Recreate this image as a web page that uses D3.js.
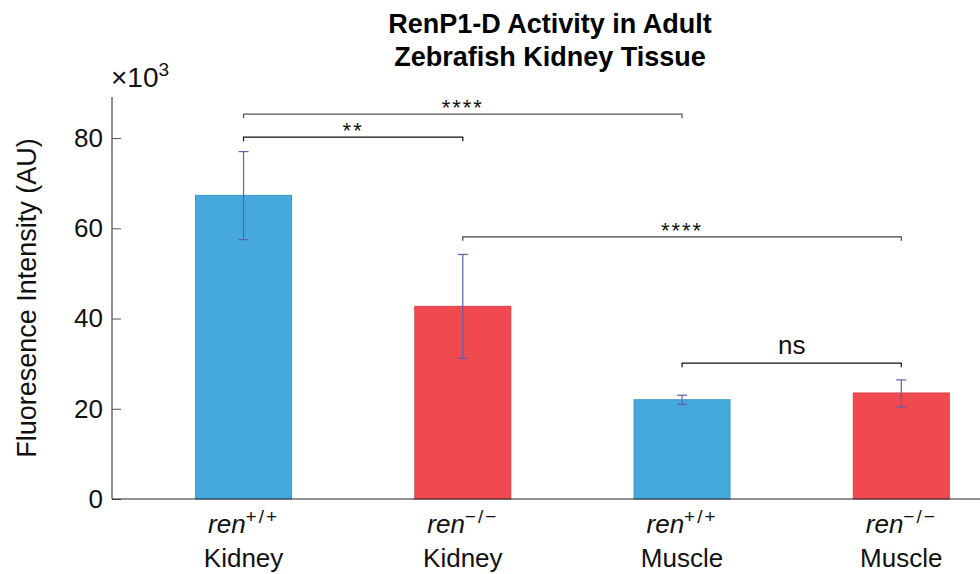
<!DOCTYPE html>
<html>
<head>
<meta charset="utf-8">
<script src="https://cdn.jsdelivr.net/npm/d3@7"></script>
<style>
  html, body { margin: 0; padding: 0; background: #fff; }
  svg { display: block; font-family: "Liberation Sans", Arial, Helvetica, sans-serif; }
</style>
</head>
<body>
<svg id="chart" width="980" height="574"></svg>
<script>
// Group labels: genotype superscript and tissue
const genotypes = ["+/+", "\u2212/\u2212", "+/+", "\u2212/\u2212"];
const tissues = ["Kidney", "Kidney", "Muscle", "Muscle"];
// Mean fluorescence (x10^3 AU) and error bar limits
const means = [67.3, 42.7, 22.0, 23.5];
const errLow = [57.5, 31.2, 21.0, 20.4];
const errHigh = [77.0, 54.2, 23.0, 26.4];
const barColors = ["#45a9dc", "#f04a50", "#45a9dc", "#f04a50"];
const yTicks = [0, 20, 40, 60, 80];
// Significance brackets: from group, to group, height, label
const brackets = [
  { from: 0, to: 2, y: 85.3, label: "****", color: "#555" },
  { from: 0, to: 1, y: 80.2, label: "**", color: "#111" },
  { from: 1, to: 3, y: 58.1, label: "****", color: "#444" },
  { from: 2, to: 3, y: 30.1, label: "ns", color: "#111" }
];

const svg = d3.select("#chart");
const x = d3.scaleLinear().domain([0.4, 4.4]).range([112, 989]);
const y = d3.scaleLinear().domain([0, 89.1]).range([499, 97]);
const barW = 96;

// Bars
svg.selectAll("rect.bar").data(means).join("rect")
  .attr("class", "bar")
  .attr("x", (d, i) => x(i + 1) - barW / 2)
  .attr("y", d => y(d))
  .attr("width", barW)
  .attr("height", d => y(0) - y(d))
  .attr("fill", (d, i) => barColors[i])
  .attr("stroke", (d, i) => d3.color(barColors[i]).darker(0.3))
  .attr("stroke-width", 1);

// Error bars
const eb = svg.append("g").attr("stroke", "#5b62b0").attr("stroke-width", 1.2).attr("fill", "none");
means.forEach((m, i) => {
  const cx = x(i + 1);
  eb.append("line").attr("x1", cx).attr("x2", cx).attr("y1", y(errLow[i])).attr("y2", y(errHigh[i]));
  eb.append("line").attr("x1", cx - 5).attr("x2", cx + 5).attr("y1", y(errLow[i])).attr("y2", y(errLow[i]));
  eb.append("line").attr("x1", cx - 5).attr("x2", cx + 5).attr("y1", y(errHigh[i])).attr("y2", y(errHigh[i]));
});

// Axes
const yAxis = d3.axisLeft(y).tickValues(yTicks).tickSize(-9).tickPadding(9);
const gy = svg.append("g").attr("transform", "translate(112,0)").call(yAxis);
gy.select(".domain").attr("stroke", "#222").attr("d", `M0,${y(0)}V97`);
gy.selectAll(".tick line").attr("stroke", "#555");
gy.selectAll(".tick text").attr("font-size", 26).attr("fill", "#111")
  .attr("font-family", "Liberation Sans, Arial, sans-serif");

svg.append("line").attr("x1", 112).attr("x2", 980).attr("y1", y(0)).attr("y2", y(0))
  .attr("stroke", "#222").attr("stroke-width", 1);

// X labels
const xl = svg.append("g").attr("font-size", 26).attr("fill", "#111").attr("text-anchor", "middle");
genotypes.forEach((g, i) => {
  const t = xl.append("text").attr("x", x(i + 1)).attr("y", 533);
  t.append("tspan").attr("font-style", "italic").text("ren");
  t.append("tspan").attr("font-size", 19).attr("dy", -10).attr("letter-spacing", 2).text(g);
  xl.append("text").attr("x", x(i + 1)).attr("y", 567).text(tissues[i]);
});

// Significance brackets
brackets.forEach(b => {
  const x1 = x(b.from + 1), x2 = x(b.to + 1), yy = y(b.y);
  svg.append("path")
    .attr("d", `M${x1},${yy + 4}V${yy}H${x2}V${yy + 4}`)
    .attr("fill", "none").attr("stroke", b.color).attr("stroke-width", 1.2);
  const lbl = svg.append("text").attr("x", (x1 + x2) / 2).attr("text-anchor", "middle").attr("fill", "#111");
  if (b.label === "ns") {
    lbl.attr("y", yy - 9).attr("font-size", 26).text(b.label);
  } else {
    lbl.attr("y", yy + 1).attr("font-size", 22).attr("letter-spacing", 2).text(b.label);
  }
});

// Y axis title
svg.append("text")
  .attr("transform", `translate(36,${(y(0) + 97) / 2}) rotate(-90)`)
  .attr("text-anchor", "middle").attr("font-size", 27).attr("fill", "#111")
  .text("Fluoresence Intensity (AU)");

// Exponent note
const ex = svg.append("text").attr("x", 111).attr("y", 87).attr("font-size", 28).attr("fill", "#111");
ex.append("tspan").text("\u00d710");
ex.append("tspan").attr("font-size", 19).attr("dy", -11).text("3");

// Title
const title = svg.append("text").attr("text-anchor", "middle").attr("font-size", 27)
  .attr("font-weight", "bold").attr("fill", "#000");
title.append("tspan").attr("x", 550).attr("y", 33).text("RenP1-D Activity in Adult");
title.append("tspan").attr("x", 550).attr("y", 66).text("Zebrafish Kidney Tissue");
</script>
</body>
</html>
